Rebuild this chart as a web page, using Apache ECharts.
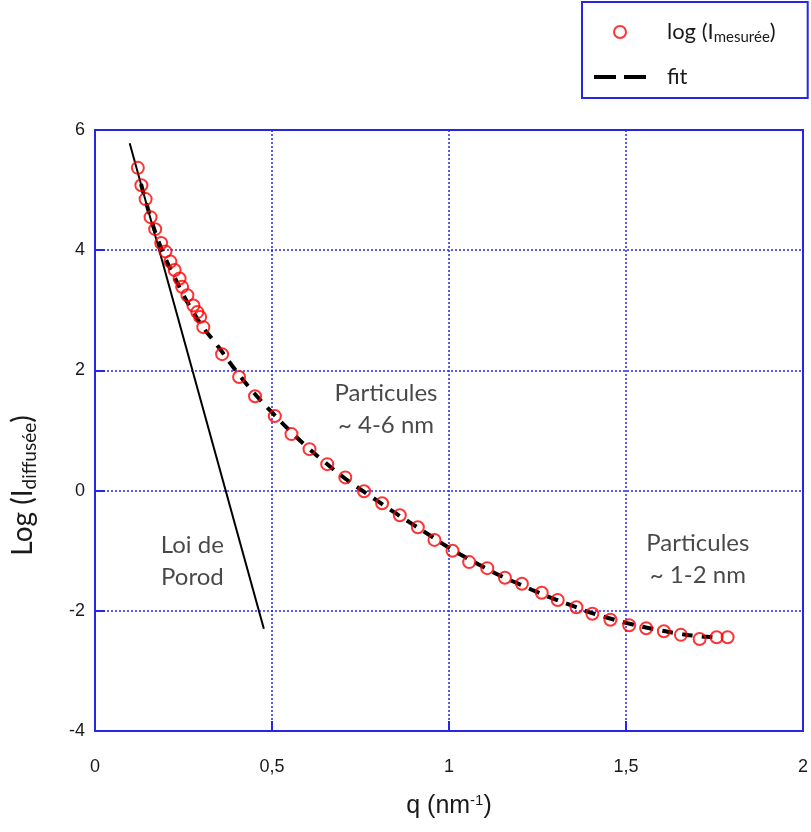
<!DOCTYPE html>
<html><head><meta charset="utf-8">
<script src="https://cdn.jsdelivr.net/npm/echarts@6/dist/echarts.min.js"></script>
<style>html,body{margin:0;padding:0;background:#fff}#c{width:811px;height:832px}</style>
</head><body><div id="c"></div>
<script>
// measured log intensity
const qMeasured = [0.121,0.131,0.143,0.157,0.170,0.187,0.199,0.213,0.225,0.239,0.246,0.261,0.278,0.289,0.297,0.306,0.359,0.407,0.452,0.508,0.555,0.606,0.656,0.707,0.760,0.811,0.861,0.912,0.959,1.010,1.057,1.108,1.158,1.206,1.262,1.307,1.360,1.405,1.456,1.509,1.557,1.607,1.655,1.708,1.756,1.787];
const logMeasured = [5.37,5.08,4.85,4.55,4.35,4.12,3.98,3.81,3.67,3.53,3.39,3.25,3.08,2.97,2.89,2.72,2.27,1.89,1.57,1.24,0.94,0.69,0.44,0.22,-0.01,-0.21,-0.41,-0.61,-0.82,-1.0,-1.19,-1.29,-1.45,-1.55,-1.70,-1.82,-1.94,-2.05,-2.15,-2.24,-2.29,-2.34,-2.40,-2.47,-2.44,-2.44];
// fit curve
const qFit = [0.13,0.15,0.175,0.2,0.225,0.25,0.275,0.3,0.35,0.4,0.45,0.5,0.55,0.6,0.65,0.7,0.75,0.8,0.85,0.9,0.95,1.0,1.05,1.1,1.15,1.2,1.25,1.3,1.35,1.4,1.45,1.5,1.55,1.6,1.65,1.7,1.75,1.77];
const logFit = [5.1,4.68,4.22,3.85,3.55,3.25,3.0,2.76,2.38,1.98,1.62,1.3,1.0,0.72,0.47,0.23,0.02,-0.18,-0.38,-0.57,-0.76,-0.95,-1.12,-1.28,-1.43,-1.56,-1.69,-1.81,-1.92,-2.03,-2.12,-2.2,-2.27,-2.33,-2.38,-2.42,-2.44,-2.45];
// Porod law line
const qPorod = [0.098, 0.477];
const logPorod = [5.78, -2.30];
// annotations
const notes = [
  {q: 0.822, v: 1.36, text: 'Particules\n~ 4-6 nm'},
  {q: 0.275, v: -1.17, text: 'Loi de\nPorod'},
  {q: 1.703, v: -1.15, text: 'Particules\n~ 1-2 nm'}
];
const xTicks = [0, 0.5, 1, 1.5, 2];
const yTicks = [-4, -2, 0, 2, 4, 6];

const BLUE = '#2626e6';
const TXT = '#1a1a1a';
const zip = (a, b) => a.map((x, i) => [x, b[i]]);
const chart = echarts.init(document.getElementById('c'));
chart.setOption({
  animation: false,
  backgroundColor: '#fff',
  grid: {left: 95, right: 3, top: 130, bottom: 101, show: true, borderColor: BLUE, borderWidth: 2, backgroundColor: 'transparent'},
  legend: {
    left: 582, top: 2, orient: 'vertical',
    data: [{name: 'log (I_mesurée)'}, {name: 'fit', itemStyle: {opacity: 0}, lineStyle: {color: '#000', width: 4, type: [22, 8]}}],
    backgroundColor: '#fff', borderColor: BLUE, borderWidth: 2, borderRadius: 0,
    padding: [19, 32, 10, 10], itemGap: 21, itemWidth: 52, itemHeight: 12,
    formatter: n => n === 'fit' ? '{n|fit}' : '{n|log (I}{s|mesurée}{n|)}',
    textStyle: {fontFamily: 'Lato', fontSize: 22, color: TXT, padding: [0, 0, 0, 16],
      rich: {n: {fontFamily: 'Lato', fontSize: 22, color: TXT, lineHeight: 26}, s: {fontFamily: 'Lato', fontSize: 15, color: TXT, verticalAlign: 'bottom', padding: [10, 0, 0, 0]}}}
  },
  xAxis: {
    type: 'value', min: 0, max: 2, interval: 0.5,
    name: '{n|q (nm}{s|-1}{n|)}', nameLocation: 'middle', nameGap: 62,
    nameTextStyle: {rich: {n: {fontFamily: 'Liberation Sans', fontSize: 25, color: TXT}, s: {fontFamily: 'Liberation Sans', fontSize: 15, color: TXT, verticalAlign: 'top', padding: [0, 0, 12, 0]}}},
    axisLine: {onZero: false, lineStyle: {color: BLUE, width: 2}},
    axisTick: {inside: true, length: 10, lineStyle: {color: BLUE, width: 2}},
    axisLabel: {fontFamily: 'Liberation Sans', fontSize: 18, color: TXT, margin: 27, formatter: v => String(v).replace('.', ',')},
    splitLine: {show: true, lineStyle: {color: BLUE, type: [2, 2], width: 1.5}}
  },
  yAxis: {
    type: 'value', min: -4, max: 6, interval: 2,
    name: '{n|Log (I}{s|diffusée}{n|)}', nameLocation: 'middle', nameGap: 56, nameRotate: 90,
    nameTextStyle: {padding: [0, 110, 0, 0], rich: {n: {fontFamily: 'Lato', fontSize: 28, color: TXT}, s: {fontFamily: 'Lato', fontSize: 19, color: TXT, verticalAlign: 'bottom', padding: [13, 0, 0, 0]}}},
    axisLine: {onZero: false, lineStyle: {color: BLUE, width: 2}},
    axisTick: {inside: true, length: 10, lineStyle: {color: BLUE, width: 2}},
    axisLabel: {fontFamily: 'Liberation Sans', fontSize: 18, color: TXT, margin: 10},
    splitLine: {show: true, lineStyle: {color: BLUE, type: [2, 2], width: 1.5}}
  },
  series: [
    {name: 'Porod', type: 'line', data: zip(qPorod, logPorod), symbol: 'none', lineStyle: {color: '#000', width: 2}, silent: true, z: 2},
    {name: 'fit', type: 'line', data: zip(qFit, logFit), symbol: 'none', smooth: true, lineStyle: {color: '#000', width: 4, type: [11, 9]}, itemStyle: {color: '#000'}, z: 3},
    {name: 'log (I_mesurée)', type: 'scatter', data: zip(qMeasured, logMeasured), symbol: 'circle', symbolSize: 12,
      itemStyle: {color: 'rgba(255,255,255,0)', borderColor: '#ff0000', borderWidth: 2}, z: 4},
    {name: 'notes', type: 'scatter', data: notes.map(n => ({value: [n.q, n.v], text: n.text})), symbolSize: 0, silent: true,
      label: {show: true, position: 'inside', formatter: p => p.data.text, fontFamily: 'Lato', fontSize: 24, color: TXT, lineHeight: 32, align: 'center'}, z: 5}
  ]
});
</script></body></html>
